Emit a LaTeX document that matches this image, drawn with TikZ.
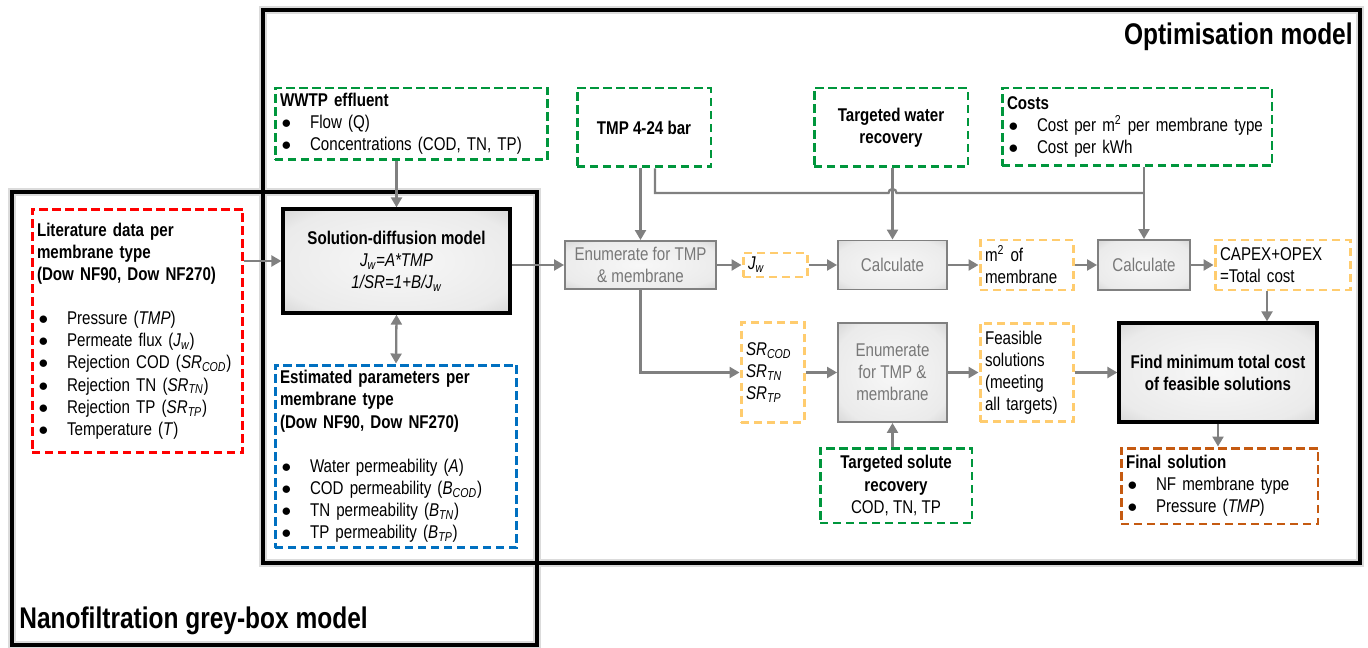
\documentclass[tikz,border=0pt]{standalone}
\usepackage{fontspec}
\setmainfont{Liberation Sans}[FakeStretch=0.82]
\usetikzlibrary{arrows.meta}
\usetikzlibrary{calc}

\definecolor{grn}{RGB}{0,150,60}
\definecolor{rd}{RGB}{255,0,0}
\definecolor{blu}{RGB}{0,112,192}
\definecolor{ylw}{RGB}{255,204,110}
\definecolor{brn}{RGB}{197,90,17}
\definecolor{arrgray}{RGB}{128,128,128}
\definecolor{txtgray}{RGB}{120,120,120}

\pgfdeclareradialshading{glowfill}{\pgfpoint{0bp}{0bp}}{color(0bp)=(black!3); color(28bp)=(black!8); color(42bp)=(black!22); color(50bp)=(black!42)}

\newcommand{\bul}[1]{\hspace*{0.03cm}\makebox[0.57cm][l]{$\bullet$}#1}

\tikzset{
  every node/.style={font=\fontsize{10.5}{12.6}\selectfont},
  dbox/.style={draw, line width=1.7pt, dash pattern=on 4.8pt off 2.6pt, inner xsep=0.1cm, inner ysep=0pt},
  grnbox/.style={dbox, draw=grn},
  redbox/.style={dbox, draw=rd},
  blubox/.style={dbox, draw=blu},
  ylwbox/.style={dbox, draw=ylw},
  brnbox/.style={dbox, draw=brn},
  procbox/.style={draw=arrgray, line width=1.1pt, shading=glowfill, text=txtgray, align=center, inner sep=0pt},
  keybox/.style={draw=black, line width=1.9pt, shading=glowfill, font=\fontsize{10.5}{12.6}\selectfont\bfseries, align=center, inner sep=0pt},
  lin/.style={draw=arrgray, line width=1.3pt},
  arr/.style={lin, -{Triangle[length=0.2cm,width=0.22cm]}},
  frameglow/.style={draw=black!14, line width=0.17cm},
  frameline/.style={draw=black, line width=0.08cm},
  bigtitle/.style={font=\fontsize{17}{20}\selectfont\bfseries, inner sep=0pt}
}

\begin{document}
\begin{tikzpicture}[x=0.02cm, y=-0.02cm]
  \useasboundingbox (0,0) rectangle (1368,648);

  \draw[frameglow] (263,10) rectangle (1360,563);
  \draw[frameglow] (12,192) rectangle (537,645);
  \draw[frameline] (263,10) rectangle (1360,563);
  \draw[frameline] (12,192) rectangle (537,645);

  \node[bigtitle, anchor=east] (opttitle) at (1353,37) {Optimisation model};
  \node[bigtitle, anchor=west] (nftitle) at (19,621) {Nanofiltration grey-box model};

  \node[grnbox, minimum width=5.46cm, minimum height=1.44cm, text width=5.26cm, align=left] (wwtp) at (411.5,124)
    {\textbf{WWTP effluent}\\\bul{Flow (Q)}\\\bul{Concentrations (COD, TN, TP)}};
  \node[grnbox, minimum width=2.68cm, minimum height=1.58cm, align=center, font=\fontsize{10.5}{12.6}\selectfont\bfseries] (tmp) at (644,127.5)
    {TMP 4-24 bar};
  \node[grnbox, minimum width=3.08cm, minimum height=1.58cm, align=center, font=\fontsize{10.5}{12.6}\selectfont\bfseries] (wrec) at (891,127.5)
    {Targeted water\\recovery};
  \node[grnbox, minimum width=5.40cm, minimum height=1.56cm, text width=5.20cm, align=left] (costs) at (1137,127)
    {\textbf{Costs}\\\bul{Cost per m\textsuperscript{2} per membrane type}\\\bul{Cost per kWh}};

  \node[redbox, minimum width=4.22cm, minimum height=4.88cm, text width=4.02cm, align=left] (lit) at (137.5,331)
    {\textbf{Literature data per}\\\textbf{membrane type}\\\textbf{(Dow NF90, Dow NF270)}\\[12.6pt]
     \bul{Pressure (\textit{TMP})}\\\bul{Permeate flux (\textit{J\textsubscript{w}})}\\
     \bul{Rejection COD (\textit{SR\textsubscript{COD}})}\\\bul{Rejection TN (\textit{SR\textsubscript{TN}})}\\
     \bul{Rejection TP (\textit{SR\textsubscript{TP}})}\\\bul{Temperature (\textit{T})}};

  \node[keybox, minimum width=4.54cm, minimum height=2.08cm] (sdm) at (396.5,261)
    {Solution-diffusion model\\\mdseries\textit{J\textsubscript{w}=A*TMP}\\\mdseries\textit{1/SR=1+B/J\textsubscript{w}}};

  \node[blubox, minimum width=4.84cm, minimum height=3.66cm, text width=4.64cm, align=left] (est) at (396,456.5)
    {\textbf{Estimated parameters per}\\\textbf{membrane type}\\\textbf{(Dow NF90, Dow NF270)}\\[12.6pt]
     \bul{Water permeability (\textit{A})}\\\bul{COD permeability (\textit{B\textsubscript{COD}})}\\
     \bul{TN permeability (\textit{B\textsubscript{TN}})}\\\bul{TP permeability (\textit{B\textsubscript{TP}})}};

  \node[procbox, minimum width=3.02cm, minimum height=0.96cm] (enum1) at (640.5,265) {Enumerate for TMP\\\& membrane};
  \node[ylwbox, minimum width=1.28cm, minimum height=0.48cm, text width=1.08cm, align=left] (jw) at (775,265) {\textit{J\textsubscript{w}}};
  \node[procbox, minimum width=2.18cm, minimum height=0.98cm] (calc1) at (892.5,265) {Calculate};
  \node[ylwbox, minimum width=1.86cm, minimum height=1.00cm, text width=1.66cm, align=left] (m2) at (1026.5,265) {m\textsuperscript{2} of\\membrane};
  \node[procbox, minimum width=1.84cm, minimum height=1.00cm] (calc2) at (1144,265) {Calculate};
  \node[ylwbox, minimum width=2.70cm, minimum height=1.00cm, text width=2.50cm, align=left] (capex) at (1282.5,265) {CAPEX+OPEX\\=Total cost};

  \node[ylwbox, minimum width=1.26cm, minimum height=2.00cm, text width=1.06cm, align=left] (sr) at (772.5,372.5)
    {\textit{SR\textsubscript{COD}}\\\textit{SR\textsubscript{TN}}\\\textit{SR\textsubscript{TP}}};
  \node[procbox, minimum width=2.18cm, minimum height=1.98cm] (enum2) at (892.5,372.5) {Enumerate\\for TMP \&\\membrane};
  \node[ylwbox, minimum width=1.86cm, minimum height=1.98cm, text width=1.66cm, align=left] (feas) at (1026.5,372.5)
    {Feasible\\solutions\\(meeting\\all targets)};
  \node[keybox, minimum width=3.96cm, minimum height=1.98cm] (find) at (1218,372.5) {Find minimum total cost\\of feasible solutions};

  \node[grnbox, minimum width=3.04cm, minimum height=1.50cm, align=center] (srec) at (896,485.5)
    {\textbf{Targeted solute}\\\textbf{recovery}\\COD, TN, TP};
  \node[brnbox, minimum width=3.94cm, minimum height=1.52cm, text width=3.74cm, align=left] (final) at (1219.5,486)
    {\textbf{Final solution}\\\bul{NF membrane type}\\\bul{Pressure (\textit{TMP})}};

  \coordinate (bus) at (0,193);

  \draw[arr] (sdm.west -| lit.east) -- (sdm.west);
  \draw[arr] (wwtp.south -| sdm.north) -- (sdm.north);
  \draw[arr, {Triangle[length=0.2cm,width=0.22cm]}-{Triangle[length=0.2cm,width=0.22cm]}] (sdm.south) -- (est.north);
  \draw[arr] (sdm.east |- enum1.west) -- (enum1.west);

  \draw[arr] (tmp.south -| enum1.north) -- (enum1.north);
  \draw[arr] (wrec.south -| calc1.north) -- (calc1.north);
  \draw[arr] (costs.south -| calc2.north) -- (calc2.north);
  \draw[lin] ([xshift=0.22cm]tmp.south) |- ([xshift=-0.08cm]calc1.north |- bus)
    arc[start angle=180, end angle=0, radius=0.08cm] -- (calc2.north |- bus);

  \draw[arr] (enum1.east) -- (jw.west);
  \draw[arr] (jw.east) -- (calc1.west);
  \draw[arr] (calc1.east) -- (m2.west);
  \draw[arr] (m2.east) -- (calc2.west);
  \draw[arr] (calc2.east) -- (capex.west);

  \draw[arr] (enum1.south) |- (sr.west);
  \draw[arr] (sr.east) -- (enum2.west);
  \draw[arr] (enum2.east) -- (feas.west);
  \draw[arr] (feas.east) -- (find.west);
  \draw[arr] (srec.north -| enum2.south) -- (enum2.south);
  \draw[arr] ([xshift=-0.31cm]capex.south) -- ([xshift=-0.31cm]capex.south |- find.north);
  \draw[arr] (find.south) -- (find.south |- final.north);
\end{tikzpicture}
\end{document}
